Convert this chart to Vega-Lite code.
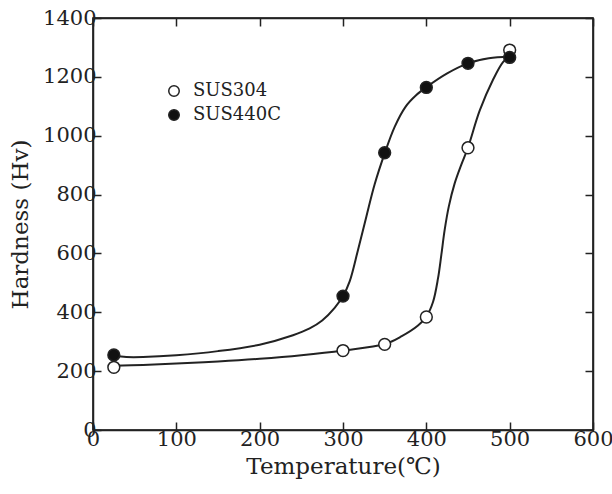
{
  "$schema": "https://vega.github.io/schema/vega-lite/v6.json",
  "width": 500,
  "height": 412,
  "autosize": "none",
  "padding": {"left": 93, "top": 18, "right": 19, "bottom": 64},
  "background": "white",
  "config": {
    "view": {"stroke": "black", "strokeWidth": 1.5},
    "font": "DejaVu Serif",
    "axis": {
      "labelFont": "DejaVu Serif",
      "titleFont": "DejaVu Serif",
      "labelFontSize": 21,
      "titleFontSize": 23,
      "titleFontWeight": "normal",
      "labelColor": "#222",
      "titleColor": "#222",
      "tickColor": "#222",
      "domainColor": "#222",
      "tickSize": -8,
      "tickWidth": 1.5,
      "domainWidth": 1.5,
      "grid": false,
      "format": "d"
    }
  },
  "datasets": {
    "curves": [
      {"series": "SUS440C", "temp": 25, "hv": 252},
      {"series": "SUS440C", "temp": 40, "hv": 248},
      {"series": "SUS440C", "temp": 60, "hv": 248},
      {"series": "SUS440C", "temp": 100, "hv": 254},
      {"series": "SUS440C", "temp": 150, "hv": 268},
      {"series": "SUS440C", "temp": 200, "hv": 290},
      {"series": "SUS440C", "temp": 240, "hv": 322},
      {"series": "SUS440C", "temp": 260, "hv": 345},
      {"series": "SUS440C", "temp": 275, "hv": 372},
      {"series": "SUS440C", "temp": 290, "hv": 415},
      {"series": "SUS440C", "temp": 300, "hv": 455},
      {"series": "SUS440C", "temp": 308, "hv": 505},
      {"series": "SUS440C", "temp": 318, "hv": 612},
      {"series": "SUS440C", "temp": 328, "hv": 725},
      {"series": "SUS440C", "temp": 338, "hv": 835},
      {"series": "SUS440C", "temp": 350, "hv": 940},
      {"series": "SUS440C", "temp": 362, "hv": 1030},
      {"series": "SUS440C", "temp": 375, "hv": 1098},
      {"series": "SUS440C", "temp": 388, "hv": 1138},
      {"series": "SUS440C", "temp": 400, "hv": 1165},
      {"series": "SUS440C", "temp": 425, "hv": 1212},
      {"series": "SUS440C", "temp": 450, "hv": 1246},
      {"series": "SUS440C", "temp": 475, "hv": 1263},
      {"series": "SUS440C", "temp": 500, "hv": 1268},
      {"series": "SUS304", "temp": 25, "hv": 218},
      {"series": "SUS304", "temp": 60, "hv": 221},
      {"series": "SUS304", "temp": 100, "hv": 226},
      {"series": "SUS304", "temp": 150, "hv": 233},
      {"series": "SUS304", "temp": 200, "hv": 242},
      {"series": "SUS304", "temp": 250, "hv": 254},
      {"series": "SUS304", "temp": 300, "hv": 270},
      {"series": "SUS304", "temp": 350, "hv": 292},
      {"series": "SUS304", "temp": 370, "hv": 318},
      {"series": "SUS304", "temp": 390, "hv": 355},
      {"series": "SUS304", "temp": 400, "hv": 385},
      {"series": "SUS304", "temp": 408, "hv": 435},
      {"series": "SUS304", "temp": 414, "hv": 515},
      {"series": "SUS304", "temp": 418, "hv": 595},
      {"series": "SUS304", "temp": 422, "hv": 680},
      {"series": "SUS304", "temp": 427, "hv": 760},
      {"series": "SUS304", "temp": 434, "hv": 838},
      {"series": "SUS304", "temp": 442, "hv": 902},
      {"series": "SUS304", "temp": 450, "hv": 960},
      {"series": "SUS304", "temp": 464, "hv": 1085},
      {"series": "SUS304", "temp": 480, "hv": 1190},
      {"series": "SUS304", "temp": 492, "hv": 1250},
      {"series": "SUS304", "temp": 500, "hv": 1270}
    ],
    "points": [
      {"series": "SUS304", "temp": 25, "hv": 213},
      {"series": "SUS304", "temp": 300, "hv": 270},
      {"series": "SUS304", "temp": 350, "hv": 291},
      {"series": "SUS304", "temp": 400, "hv": 384},
      {"series": "SUS304", "temp": 450, "hv": 959},
      {"series": "SUS304", "temp": 500, "hv": 1291},
      {"series": "SUS440C", "temp": 25, "hv": 255},
      {"series": "SUS440C", "temp": 300, "hv": 455},
      {"series": "SUS440C", "temp": 350, "hv": 942},
      {"series": "SUS440C", "temp": 400, "hv": 1164},
      {"series": "SUS440C", "temp": 450, "hv": 1246},
      {"series": "SUS440C", "temp": 500, "hv": 1266}
    ]
  },
  "layer": [
    {
      "data": {"name": "curves"},
      "mark": {"type": "line", "interpolate": "catmull-rom", "color": "#222", "strokeWidth": 2},
      "encoding": {
        "x": {"field": "temp", "type": "quantitative", "scale": {"domain": [0, 600], "nice": false},
              "axis": {"orient": "bottom", "title": "Temperature(℃)", "values": [0,100,200,300,400,500,600], "labelPadding": 6, "titlePadding": 6, "labelFlush": false}},
        "y": {"field": "hv", "type": "quantitative", "scale": {"domain": [0, 1400], "nice": false},
              "axis": {"orient": "left", "title": "Hardness (Hv)", "values": [0,200,400,600,800,1000,1200,1400], "labelPadding": 5, "titlePadding": 10, "labelFlush": false}},
        "detail": {"field": "series"}
      }
    },
    {
      "data": {"name": "points"},
      "mark": {"type": "point", "shape": "circle", "filled": false, "size": 140, "stroke": "#222", "strokeWidth": 1.5, "opacity": 1},
      "encoding": {
        "x": {"field": "temp", "type": "quantitative",
              "axis": {"orient": "top", "title": null, "labels": false, "values": [0,100,200,300,400,500,600]}},
        "y": {"field": "hv", "type": "quantitative",
              "axis": {"orient": "right", "title": null, "labels": false, "values": [0,200,400,600,800,1000,1200,1400]}},
        "fill": {"field": "series", "type": "nominal",
                 "scale": {"domain": ["SUS304", "SUS440C"], "range": ["white", "#111"]},
                 "legend": {"orient": "none", "legendX": 72, "legendY": 64, "title": null,
                            "symbolType": "circle", "symbolSize": 110, "symbolStrokeColor": "#222", "symbolStrokeWidth": 1.5,
                            "labelFont": "DejaVu Serif", "labelFontSize": 18, "labelColor": "#222", "rowPadding": 6, "labelOffset": 10}}
      }
    }
  ],
  "resolve": {"axis": {"x": "independent", "y": "independent"}}
}
